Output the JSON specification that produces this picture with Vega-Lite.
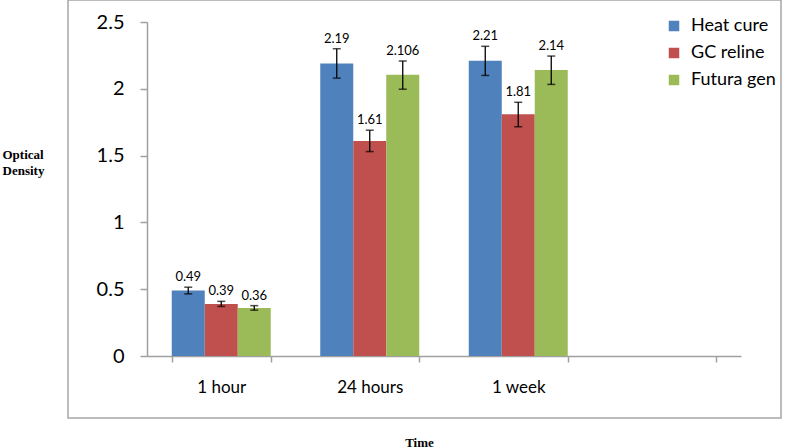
{
  "$schema": "https://vega.github.io/schema/vega-lite/v6.json",
  "autosize": "none",
  "padding": {"left": 68, "top": 0, "right": 7, "bottom": 30},
  "width": 713,
  "height": 418,
  "background": "white",
  "config": {
    "view": {"stroke": "#a6a6a6", "strokeWidth": 1.5},
    "axis": {"grid": false, "domainColor": "#a0a0a0", "tickColor": "#a0a0a0", "labelColor": "#000000", "labelFont": "Lato", "titleColor": "#000000"}
  },
  "data": {
    "values": [
      {"time": "1 hour", "material": "Heat cure", "value": 0.49, "lo": 0.465, "hi": 0.515, "label": "0.49"},
      {"time": "1 hour", "material": "GC reline", "value": 0.39, "lo": 0.371, "hi": 0.409, "label": "0.39"},
      {"time": "1 hour", "material": "Futura gen", "value": 0.36, "lo": 0.343, "hi": 0.377, "label": "0.36"},
      {"time": "24 hours", "material": "Heat cure", "value": 2.19, "lo": 2.08, "hi": 2.30, "label": "2.19"},
      {"time": "24 hours", "material": "GC reline", "value": 1.61, "lo": 1.53, "hi": 1.69, "label": "1.61"},
      {"time": "24 hours", "material": "Futura gen", "value": 2.106, "lo": 1.997, "hi": 2.208, "label": "2.106"},
      {"time": "1 week", "material": "Heat cure", "value": 2.21, "lo": 2.10, "hi": 2.318, "label": "2.21"},
      {"time": "1 week", "material": "GC reline", "value": 1.81, "lo": 1.716, "hi": 1.899, "label": "1.81"},
      {"time": "1 week", "material": "Futura gen", "value": 2.14, "lo": 2.033, "hi": 2.245, "label": "2.14"}
    ]
  },
  "encoding": {
    "x": {
      "field": "time", "type": "nominal",
      "scale": {"domain": ["1 hour", "24 hours", "1 week", " "], "range": [79, 673], "paddingInner": 0.3333, "paddingOuter": 0.16667},
      "axis": {
        "orient": "bottom", "offset": -62, "labelAngle": 0, "labelFontSize": 17, "labelPadding": 17,
        "tickBand": "extent", "tickSize": 6, "domainWidth": 1.5, "tickWidth": 1.5,
        "title": "Time", "titleFont": "Liberation Serif", "titleFontWeight": "bold", "titleFontSize": 13,
        "titleX": 351, "titleY": 86, "titleBaseline": "middle", "titleAlign": "center"
      }
    },
    "xOffset": {"field": "material", "type": "nominal", "scale": {"domain": ["Heat cure", "GC reline", "Futura gen"], "paddingInner": 0, "paddingOuter": 0}}
  },
  "layer": [
    {
      "mark": {"type": "bar"},
      "encoding": {
        "y": {
          "field": "value", "type": "quantitative",
          "scale": {"domain": [0, 2.5], "range": [356, 22], "nice": false},
          "axis": {
            "orient": "left", "offset": -79, "values": [0, 0.5, 1, 1.5, 2, 2.5], "labelFontSize": 20,
            "labelPadding": 16, "tickSize": 7, "domainWidth": 1.5, "tickWidth": 1.5, "labelExpr": "datum.value",
            "title": ["Optical", "Density"], "titleFont": "Liberation Serif", "titleFontWeight": "bold", "titleFontSize": 13,
            "titleAngle": 0, "titleAlign": "left", "titleBaseline": "top", "titleX": -145, "titleY": 148, "titleLineHeight": 16
          }
        },
        "color": {
          "field": "material", "type": "nominal",
          "scale": {"domain": ["Heat cure", "GC reline", "Futura gen"], "range": ["#4f81bd", "#c0504d", "#9bbb59"]},
          "legend": {
            "title": null, "orient": "none", "legendX": 597, "legendY": 17, "padding": 0,
            "symbolType": "square", "symbolSize": 110, "symbolStrokeWidth": 0, "labelFont": "Lato",
            "labelFontSize": 18, "labelOffset": 8, "rowPadding": 9, "labelColor": "#000000"
          }
        }
      }
    },
    {
      "mark": {"type": "rule", "color": "#000000", "strokeWidth": 1.3},
      "encoding": {
        "y": {"field": "lo", "type": "quantitative"},
        "y2": {"field": "hi"}
      }
    },
    {
      "mark": {"type": "tick", "color": "#000000", "size": 8, "thickness": 1.5},
      "encoding": {"y": {"field": "lo", "type": "quantitative"}}
    },
    {
      "mark": {"type": "tick", "color": "#000000", "size": 8, "thickness": 1.5},
      "encoding": {"y": {"field": "hi", "type": "quantitative"}}
    },
    {
      "mark": {"type": "text", "font": "Lato", "fontSize": 13, "baseline": "alphabetic", "dy": -6, "color": "#000000"},
      "encoding": {
        "y": {"field": "hi", "type": "quantitative"},
        "text": {"field": "label"}
      }
    }
  ]
}
